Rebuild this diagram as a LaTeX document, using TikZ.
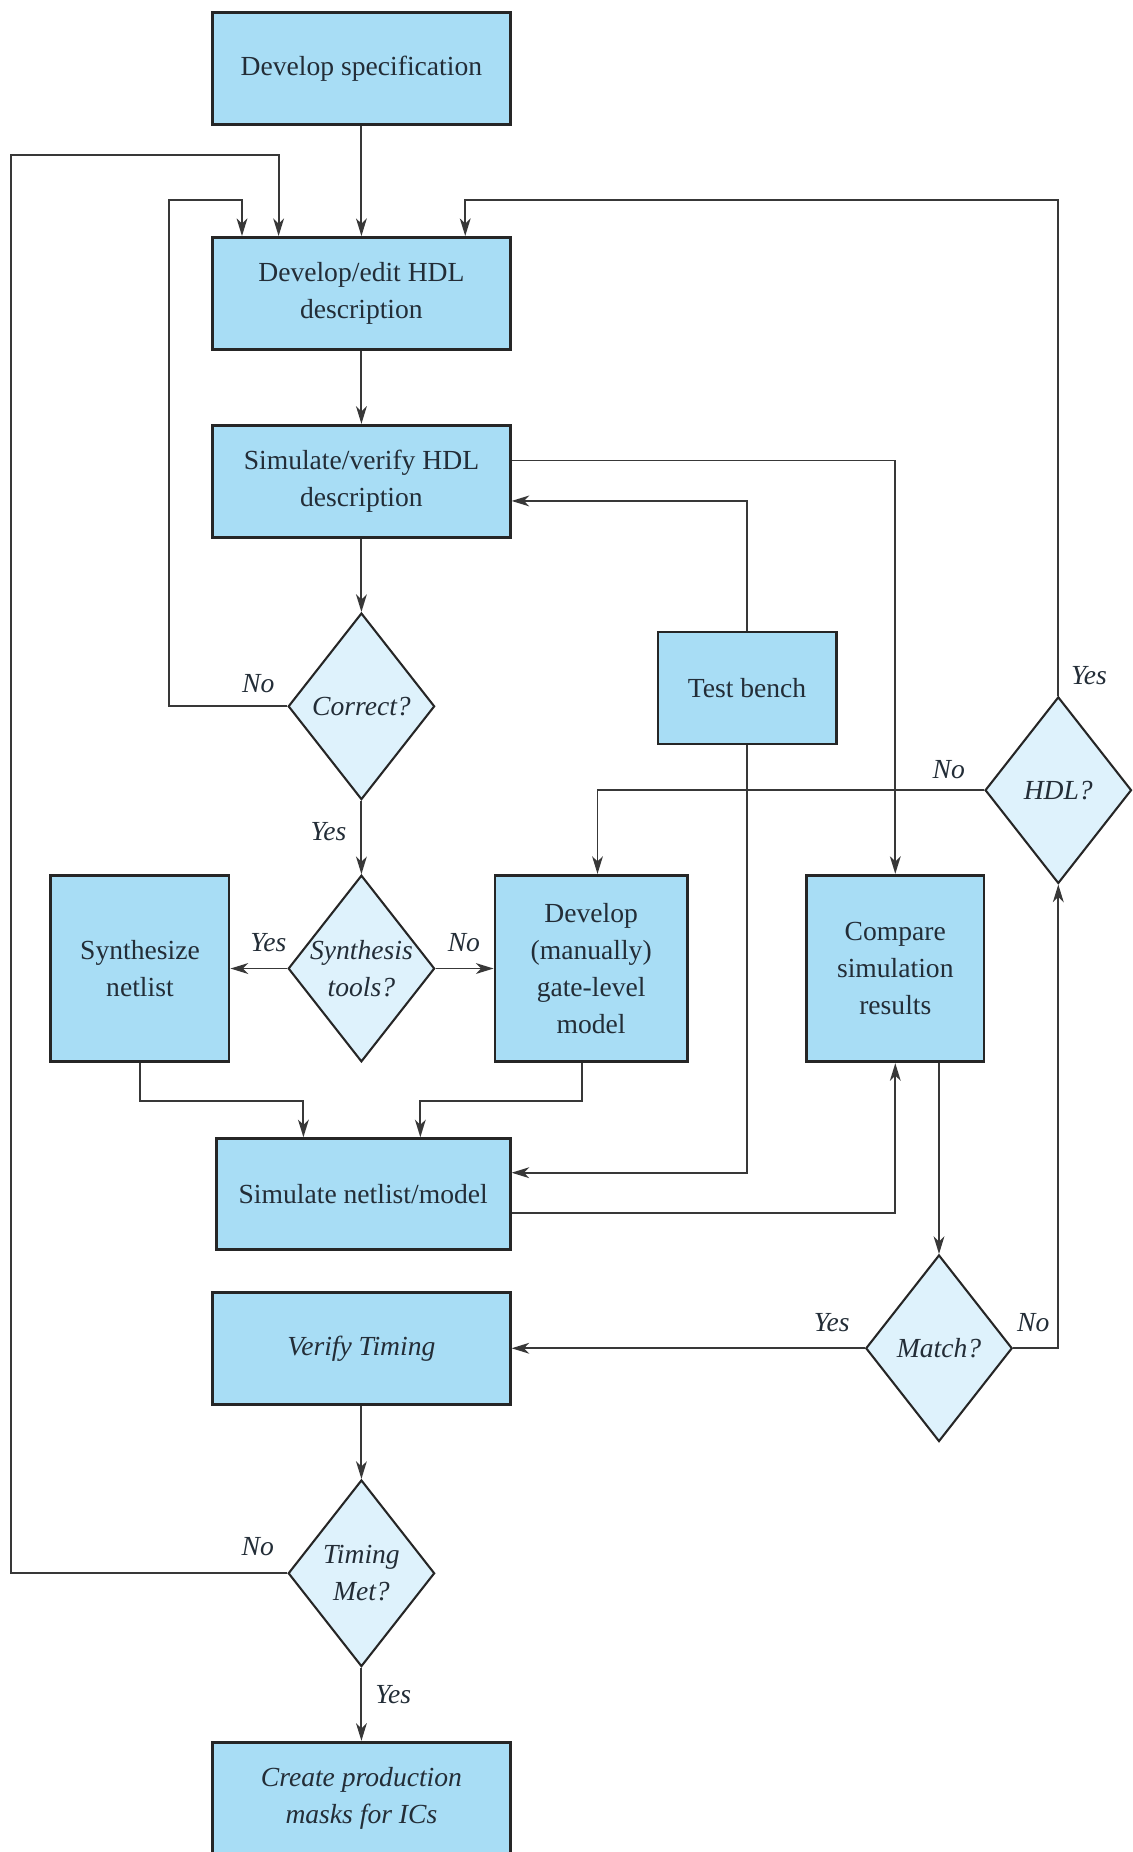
\documentclass[tikz,border=0pt]{standalone}
\usepackage{fontspec}
\setmainfont{Liberation Serif}
\usetikzlibrary{shapes.geometric,arrows.meta,calc,positioning}
\definecolor{box area}{RGB}{168,221,245}
\definecolor{decision area}{RGB}{222,242,252}
\definecolor{ink}{RGB}{35,45,55}
\colorlet{box edge}{black!85}
\colorlet{flow line}{black!78}
\def\boxfont{\fontsize{13.3}{17.9}\selectfont}
\tikzset{process/.style={rectangle, draw=box edge, line width=1.3pt, fill=box area,
        text=ink, align=center, minimum width=5.04cm, minimum height=1.9cm, font=\boxfont},
    decision/.style={diamond, draw=box edge, line width=1pt, fill=decision area,
        text=ink, align=center, inner sep=-10pt, minimum width=2.48cm, minimum height=3.16cm,
        font=\boxfont\itshape},
    flow/.style={draw=flow line, line width=0.9pt,
        -{Stealth[length=8.5pt,width=5.2pt,inset=2.5pt]}},
    answer/.style={inner sep=0pt, text=ink, font=\boxfont\itshape}}

\begin{document}
\begin{tikzpicture}[x=0.02cm, y=-0.02cm]
    \clip (0,0) rectangle (959,1568);
    % main column
    \node[process] (spec)   at (306,58)    {Develop specification};
    \node[process] (edit)   at (306,248.5) {Develop/edit HDL\\description};
    \node[process] (simhdl) at (306,407.5) {Simulate/verify HDL\\description};
    \node[decision] (correct) at (306,598) {Correct?};
    \node[decision] (synth)   at (306,820) {Synthesis\\tools?};
    \node[process, minimum width=3.02cm, minimum height=3.16cm] (netlist) at (118.5,820) {Synthesize\\netlist};
    \node[process, minimum width=3.26cm, minimum height=3.16cm] (manual)  at (500.5,820) {Develop\\(manually)\\gate-level\\model};
    \node[process, minimum width=3.02cm] (bench) at (632.5,582.5) {Test bench};
    \node[process, minimum width=3.0cm, minimum height=3.16cm] (compare) at (758,820) {Compare\\simulation\\results};
    \node[decision] (hdl) at (896,669) {HDL?};
    \node[process, minimum width=4.98cm, minimum height=1.88cm] (simnet) at (307.5,1011) {Simulate netlist/model};
    \node[decision] (match) at (795,1141.5) {Match?};
    \node[process, font=\boxfont\itshape] (timing) at (306,1141.5) {Verify Timing};
    \node[decision] (met) at (306,1332) {Timing\\Met?};
    \node[process, font=\boxfont\itshape] (masks) at (306,1522.5) {Create production\\masks for ICs};

    % straight flow
    \draw[flow] (spec.south) -- (edit.north);
    \draw[flow] (edit.south) -- (simhdl.north);
    \draw[flow] (simhdl.south) -- (correct.north);
    \draw[flow] (correct.south) node[answer, below left=0.36cm and 0.24cm] {Yes} -- (synth.north);
    \draw[flow] (synth.west) node[answer, above left=0.26cm and 0cm] {Yes} -- (netlist.east);
    \draw[flow] (synth.east) node[answer, above right=0.26cm and 0.19cm] {No} -- (manual.west);
    \draw[flow] (match.west) node[answer, above left=0.26cm and 0.24cm] {Yes} -- (timing.east);
    \draw[flow] (timing.south) -- (met.north);
    \draw[flow] (met.south) node[answer, below right=0.28cm and 0.22cm] {Yes} -- (masks.north);

    % loops back to the HDL description
    \draw[flow] (correct.west) node[answer, above left=0.22cm and 0.2cm] {No}
        -| (143,169) -| ($(edit.north west)+(26,0)$);
    \draw[flow] (met.west) node[answer, above left=0.28cm and 0.21cm] {No}
        -| (9,131) -| ($(edit.north west)+(57,0)$);
    \draw[flow] (hdl.north) node[answer, above right=0.18cm and 0.2cm] {Yes}
        -- (896,169) -| ($(edit.north west)+(215,0)$);

    % test bench and comparison
    \draw[flow] ($(simhdl.north east)+(0,31)$) -| (compare.north);
    \draw[flow] (bench.north) |- ($(simhdl.south east)+(0,-32)$);
    \draw[flow] (bench.south) |- ($(simnet.north east)+(0,30)$);
    \draw[flow] (hdl.west) node[answer, above left=0.18cm and 0.31cm] {No}
        -| ($(manual.north west)+(88,0)$);
    \draw[flow] (netlist.south) -- ++(0,32) -| ($(simnet.north west)+(75,0)$);
    \draw[flow] ($(manual.south west)+(75,0)$) -- ++(0,32) -| ($(simnet.north west)+(174,0)$);
    \draw[flow] ($(simnet.south east)+(0,-32)$) -| (compare.south);
    \draw[flow] (match.north |- compare.south) -- (match.north);
    \draw[flow] (match.east) node[answer, above right=0.26cm and 0.05cm] {No} -| (hdl.south);
\end{tikzpicture}
\end{document}
